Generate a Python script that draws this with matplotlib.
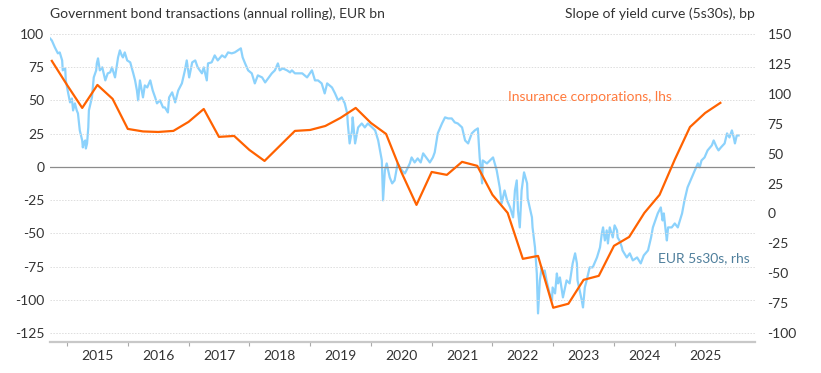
import numpy as np
import matplotlib.pyplot as plt

plt.rcParams['font.family'] = ['Lato', 'DejaVu Sans']

# insurance corporations, quarterly, EUR bn (lhs)
ins_dates = [2014.75 + 0.25 * k for k in range(45)]
ins_vals = [79.8, 61.7, 44.4, 61.7, 51.2, 28.6, 26.7, 26.3, 27.1, 33.9,
            43.6, 22.6, 23.3, 12.8, 4.5, 15.8, 27.1, 27.8, 30.8, 36.9,
            44.4, 33.1, 24.8, -3.8, -28.6, -3.8, -6.0, 3.8, 0.8, -21.0,
            -34.6, -69.2, -67.0, -106.0, -103.0, -85.0, -82.0, -59.4, -52.7, -34.6,
            -21.0, 5.5, 30.0, 40.6, 48.2]

# EUR 5s30s slope, bp (rhs)
curve_dates = [2014.72, 2014.75, 2014.80, 2014.85, 2014.88, 2014.92, 2014.93, 2014.97, 2014.98, 2015.02,
               2015.05, 2015.08, 2015.10, 2015.13, 2015.16, 2015.18, 2015.21, 2015.25, 2015.26, 2015.28,
               2015.30, 2015.31, 2015.33, 2015.35, 2015.36, 2015.41, 2015.44, 2015.48, 2015.49, 2015.51,
               2015.54, 2015.58, 2015.63, 2015.67, 2015.71, 2015.74, 2015.79, 2015.84, 2015.87, 2015.90,
               2015.92, 2015.95, 2015.99, 2016.04, 2016.09, 2016.12, 2016.15, 2016.17, 2016.20, 2016.25,
               2016.28, 2016.32, 2016.37, 2016.41, 2016.45, 2016.48, 2016.53, 2016.58, 2016.61, 2016.64,
               2016.66, 2016.68, 2016.73, 2016.78, 2016.83, 2016.89, 2016.94, 2016.97, 2017.01, 2017.06,
               2017.11, 2017.15, 2017.22, 2017.25, 2017.30, 2017.32, 2017.38, 2017.43, 2017.48, 2017.55,
               2017.60, 2017.65, 2017.71, 2017.76, 2017.81, 2017.86, 2017.89, 2017.93, 2017.98, 2018.04,
               2018.09, 2018.14, 2018.21, 2018.26, 2018.31, 2018.37, 2018.42, 2018.47, 2018.50, 2018.55,
               2018.62, 2018.67, 2018.70, 2018.75, 2018.87, 2018.95, 2019.03, 2019.08, 2019.13, 2019.19,
               2019.24, 2019.28, 2019.36, 2019.41, 2019.46, 2019.52, 2019.57, 2019.61, 2019.62, 2019.65,
               2019.69, 2019.70, 2019.74, 2019.79, 2019.85, 2019.90, 2019.95, 2020.02, 2020.07, 2020.12,
               2020.18, 2020.20, 2020.23, 2020.26, 2020.31, 2020.35, 2020.39, 2020.44, 2020.51, 2020.56,
               2020.61, 2020.64, 2020.67, 2020.72, 2020.77, 2020.82, 2020.86, 2020.92, 2020.97, 2021.02,
               2021.05, 2021.10, 2021.17, 2021.22, 2021.27, 2021.33, 2021.38, 2021.43, 2021.50, 2021.55,
               2021.60, 2021.66, 2021.71, 2021.76, 2021.79, 2021.83, 2021.84, 2021.91, 2021.96, 2022.01,
               2022.07, 2022.12, 2022.15, 2022.20, 2022.24, 2022.29, 2022.34, 2022.37, 2022.40, 2022.42,
               2022.45, 2022.48, 2022.52, 2022.57, 2022.58, 2022.65, 2022.66, 2022.70, 2022.73, 2022.75,
               2022.78, 2022.81, 2022.83, 2022.86, 2022.89, 2022.94, 2022.98, 2022.99, 2023.03, 2023.06,
               2023.08, 2023.11, 2023.16, 2023.22, 2023.27, 2023.32, 2023.36, 2023.39, 2023.40, 2023.47,
               2023.49, 2023.52, 2023.55, 2023.60, 2023.65, 2023.72, 2023.77, 2023.80, 2023.82, 2023.85,
               2023.88, 2023.90, 2023.93, 2023.98, 2024.01, 2024.05, 2024.06, 2024.09, 2024.13, 2024.14,
               2024.21, 2024.26, 2024.31, 2024.38, 2024.44, 2024.49, 2024.56, 2024.61, 2024.64, 2024.72,
               2024.77, 2024.80, 2024.82, 2024.85, 2024.87, 2024.89, 2024.95, 2025.00, 2025.05, 2025.07,
               2025.12, 2025.16, 2025.21, 2025.28, 2025.33, 2025.38, 2025.41, 2025.44, 2025.49, 2025.54,
               2025.61, 2025.64, 2025.69, 2025.72, 2025.76, 2025.82, 2025.86, 2025.90, 2025.94, 2025.97,
               2025.99, 2026.02, 2026.05]
curve_vals = [146.3, 144.6, 138.8, 133.8, 134.6, 127.9, 119.6, 121.2, 111.2, 100.3,
              92.8, 96.1, 86.1, 92.0, 86.1, 83.6, 69.4, 61.0, 55.2, 59.4,
              61.0, 54.3, 58.5, 71.9, 86.1, 97.0, 113.7, 119.6, 125.4, 129.6,
              119.6, 122.1, 111.2, 117.1, 117.9, 122.1, 113.7, 130.4, 136.3, 132.1,
              130.4, 134.6, 127.9, 126.3, 117.1, 111.2, 102.8, 94.5, 111.2, 97.0,
              107.0, 105.3, 111.2, 102.8, 97.0, 92.0, 94.5, 88.6, 88.6, 86.1,
              84.4, 97.0, 101.2, 92.8, 102.8, 108.7, 119.6, 127.9, 113.7, 126.3,
              127.9, 122.1, 117.1, 122.1, 111.2, 125.4, 126.3, 132.1, 127.9, 132.1,
              130.4, 134.6, 133.8, 134.6, 136.3, 138.0, 130.4, 125.4, 119.6, 117.1,
              108.7, 115.4, 113.7, 109.5, 112.9, 117.1, 119.6, 125.4, 119.6, 121.2,
              119.6, 117.9, 119.6, 117.1, 117.1, 113.7, 119.6, 111.2, 111.2, 108.7,
              100.3, 108.7, 105.3, 100.3, 94.5, 97.0, 92.0, 83.6, 75.2, 58.5,
              69.4, 80.3, 58.5, 71.9, 75.2, 71.9, 75.2, 71.9, 69.4, 61.0,
              44.3, 10.9, 36.0, 41.8, 30.1, 25.1, 27.6, 41.8, 36.0, 33.4,
              38.5, 41.8, 46.8, 42.6, 46.0, 42.6, 50.2, 46.0, 42.6, 46.8,
              51.0, 66.9, 75.2, 80.3, 79.4, 79.4, 76.1, 75.2, 71.9, 61.0,
              58.5, 66.9, 69.4, 71.1, 46.8, 25.1, 44.3, 41.8, 44.3, 46.8,
              36.0, 21.7, 8.4, 19.2, 10.9, 5.0, -3.3, 19.2, 27.6, 2.5,
              -11.7, 19.2, 34.3, 25.1, 12.5, -3.3, -11.7, -28.4, -50.2, -83.6,
              -56.0, -45.1, -50.2, -47.7, -56.0, -66.9, -72.7, -61.9, -66.9, -50.2,
              -58.5, -53.5, -70.2, -56.0, -58.5, -41.8, -33.4, -41.8, -56.0, -72.7,
              -78.6, -61.9, -56.0, -45.1, -45.1, -36.8, -28.4, -16.7, -11.7, -22.6,
              -14.2, -25.1, -11.7, -20.1, -10.0, -14.2, -20.1, -22.6, -28.4, -30.9,
              -36.8, -33.4, -39.3, -36.8, -41.8, -35.1, -30.9, -20.1, -11.7, 0.0,
              5.0, -5.9, 0.0, -14.2, -22.6, -11.7, -11.7, -8.4, -11.7, -8.4,
              0.0, 10.9, 21.7, 30.1, 36.0, 41.8, 38.5, 44.3, 46.8, 52.7,
              56.9, 61.0, 55.2, 52.7, 55.2, 58.5, 66.9, 63.5, 69.4, 63.5,
              58.5, 65.2, 65.2]

lhs_ticks = [100, 75, 50, 25, 0, -25, -50, -75, -100, -125]
rhs_ticks = [150, 125, 100, 75, 50, 25, 0, -25, -50, -75, -100]
years = list(range(2015, 2026))

orange = '#FF6200'
blue = '#8CD2FC'
txt = '#333333'

fig = plt.figure(figsize=(8.21, 3.73), dpi=100)
ax = fig.add_axes([0.0609, 0.0831, 0.8587, 0.8338])
ax2 = ax.twinx()

ax2.plot(curve_dates, curve_vals, color=blue, lw=1.6, zorder=2)
ax.plot(ins_dates, ins_vals, color=orange, lw=1.6, zorder=3)
ax.set_zorder(ax2.get_zorder() + 1)
ax.patch.set_visible(False)

ax.set_xlim(2014.72, 2026.32)
ax.set_ylim(-131.8, 102.3)
ax2.set_ylim(-107.5, 152.5)

for v in lhs_ticks:
    if v == 0:
        ax.axhline(0, color='#8c8c8c', lw=0.9, zorder=1)
    else:
        ax.axhline(v, color='#dddddd', lw=0.7, ls=(0, (1.5, 1.5)), zorder=0)

ax.set_yticks(lhs_ticks)
ax.set_yticklabels([str(v) for v in lhs_ticks])
ax2.set_yticks(rhs_ticks)
ax2.set_yticklabels([str(v) for v in rhs_ticks])

ax.set_xticks(years)
ax.set_xticklabels([])
ax.set_xticks([y + 0.5 for y in years], minor=True)
ax.set_xticklabels([str(y) for y in years], minor=True)
ax.tick_params(axis='x', which='major', length=3, width=0.8, color='#aaaaaa', direction='out')
ax.tick_params(axis='x', which='minor', length=0, pad=6, labelsize=10, labelcolor=txt)
ax.tick_params(axis='y', length=0, labelsize=10, labelcolor=txt, pad=4)
ax2.tick_params(axis='y', length=0, labelsize=10, labelcolor=txt, pad=9)

for a in (ax, ax2):
    for s in ('top', 'left', 'right', 'bottom'):
        a.spines[s].set_visible(False)
ax.spines['bottom'].set_visible(True)
ax.spines['bottom'].set_color('#c8c8c8')
ax.spines['bottom'].set_linewidth(1.6)

fig.text(0.0609, 0.962, 'Government bond transactions (annual rolling), EUR bn',
         fontsize=10, color=txt, ha='left', va='center')
fig.text(0.9196, 0.962, 'Slope of yield curve (5s30s), bp',
         fontsize=10, color=txt, ha='right', va='center')
ax.text(2023.6, 52.5, 'Insurance corporations, lhs', color='#FF7A3D',
        fontsize=10, ha='center', va='center')
ax2.text(2026.23, -37.6, 'EUR 5s30s, rhs', color='#4F7F9C',
         fontsize=10, ha='right', va='center')

fig.savefig('out.png', dpi=100)
